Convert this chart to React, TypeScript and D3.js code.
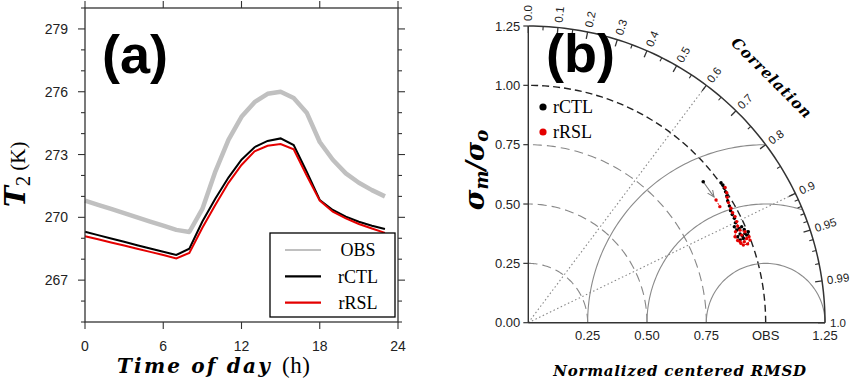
import React from 'react';
import * as d3 from 'd3';

// ---- panel (a): diurnal cycle of 2 m temperature ----
const hours = [0, 1, 2, 3, 4, 5, 6, 7, 8, 9, 10, 11, 12, 13, 14, 15, 16, 17, 18, 19, 20, 21, 22, 23];
const obsT2 = [270.8, 270.6, 270.4, 270.2, 270.0, 269.8, 269.6, 269.4, 269.3, 270.4, 272.2, 273.7, 274.8, 275.5, 275.9, 276.0, 275.7, 275.0, 273.6, 272.75, 272.1, 271.65, 271.3, 271.0];
const rctlT2 = [269.31, 269.15, 268.99, 268.83, 268.67, 268.51, 268.36, 268.2, 268.5, 269.8, 270.9, 271.9, 272.75, 273.35, 273.65, 273.77, 273.45, 272.18, 270.83, 270.35, 270.03, 269.79, 269.6, 269.44];
const rrslT2 = [269.1, 268.95, 268.8, 268.65, 268.5, 268.35, 268.2, 268.04, 268.3, 269.5, 270.6, 271.65, 272.5, 273.15, 273.42, 273.5, 273.25, 272.0, 270.8, 270.27, 269.95, 269.68, 269.47, 269.26];
const hourTicks = [0, 6, 12, 18, 24];
const tempTicks = [267, 270, 273, 276, 279];
const seriesNames = ['OBS', 'rCTL', 'rRSL'];

// ---- panel (b): Taylor diagram (normalized x / y components) ----
const ctlX = [0.812, 0.82, 0.826, 0.831, 0.836, 0.84, 0.847, 0.852, 0.859, 0.868, 0.873, 0.868, 0.878, 0.888, 0.899, 0.91, 0.913, 0.902, 0.892, 0.882, 0.892, 0.906, 0.92, 0.927];
const ctlY = [0.59, 0.58, 0.566, 0.552, 0.534, 0.514, 0.492, 0.472, 0.456, 0.44, 0.421, 0.404, 0.39, 0.397, 0.404, 0.393, 0.376, 0.365, 0.374, 0.362, 0.348, 0.355, 0.369, 0.383];
const rslX = [0.829, 0.836, 0.838, 0.843, 0.854, 0.861, 0.871, 0.878, 0.882, 0.873, 0.871, 0.882, 0.896, 0.91, 0.92, 0.93, 0.934, 0.924, 0.906, 0.892, 0.899, 0.913, 0.892];
const rslY = [0.57, 0.548, 0.528, 0.506, 0.482, 0.463, 0.447, 0.426, 0.407, 0.383, 0.362, 0.346, 0.334, 0.341, 0.355, 0.362, 0.348, 0.332, 0.327, 0.341, 0.369, 0.383, 0.39];
const outlierCtl = [0.737, 0.594];
const outlierRsl = [[0.791, 0.517], [0.807, 0.489]];
const stdTicks = [0, 0.25, 0.5, 0.75, 1.0, 1.25];
const stdTickLabels = ['0.00', '0.25', '0.50', '0.75', '1.00', '1.25'];
const xTickLabels = ['0.25', '0.50', '0.75', 'OBS', '1.25'];
const corrMajor = [0, 0.1, 0.2, 0.3, 0.4, 0.5, 0.6, 0.7, 0.8, 0.9, 0.95, 0.99, 1.0];
const corrMajorLabels = ['0.0', '0.1', '0.2', '0.3', '0.4', '0.5', '0.6', '0.7', '0.8', '0.9', '0.95', '0.99', '1.0'];
const corrMinor = [0.05, 0.15, 0.25, 0.35, 0.45, 0.55, 0.65, 0.75, 0.85, 0.91, 0.92, 0.93, 0.94, 0.96, 0.97, 0.98];
const rmsRadii = [0.25, 0.5, 0.75];
const stdArcs = [0.25, 0.5, 0.75];
const corrLines = [0.6, 0.9];

const sans = 'Liberation Sans, Arial, sans-serif';
const serif = 'Liberation Serif, Times New Roman, serif';
const mathFont = 'DejaVu Serif, serif';
const axisColor = '#333';

function PanelA() {
  const x = d3.scaleLinear().domain([0, 24]).range([85, 398]);
  const y = d3.scaleLinear().domain([265, 280]).range([322, 8]);
  const line = d3.line<number>().x((_d, i) => x(hours[i])).y(d => y(d));
  const minor = d3.range(265, 281);
  const [x0, x1] = x.range();
  const [y0, y1] = y.range();

  return (
    <g>
      {/* curves */}
      <path d={line(obsT2) || ''} fill="none" stroke="#c0c0c0" strokeWidth={4.5} strokeLinejoin="round" />
      <path d={line(rctlT2) || ''} fill="none" stroke="#000" strokeWidth={2} />
      <path d={line(rrslT2) || ''} fill="none" stroke="#e40000" strokeWidth={2} />

      {/* frame */}
      <rect x={x0} y={y1} width={x1 - x0} height={y0 - y1} fill="none" stroke={axisColor} strokeWidth={1.3} />
      {minor.map(v => {
        const major = tempTicks.includes(v);
        const len = major ? 7 : 4;
        return (
          <g key={'yt' + v} stroke={axisColor} strokeWidth={1.1}>
            <line x1={x0} x2={x0 - len} y1={y(v)} y2={y(v)} />
            <line x1={x1} x2={x1 + len} y1={y(v)} y2={y(v)} />
          </g>
        );
      })}
      {hourTicks.map(h => (
        <g key={'xt' + h} stroke={axisColor} strokeWidth={1.1}>
          <line x1={x(h)} x2={x(h)} y1={y0} y2={y0 + 7} />
          <line x1={x(h)} x2={x(h)} y1={y1} y2={y1 - 7} />
        </g>
      ))}
      {tempTicks.map(v => (
        <text key={'yl' + v} x={x0 - 17} y={y(v)} dy="0.36em" textAnchor="end" fontFamily={sans} fontSize={14} fill="#222">
          {v}
        </text>
      ))}
      {hourTicks.map(h => (
        <text key={'xl' + h} x={x(h)} y={351} textAnchor="middle" fontFamily={sans} fontSize={14} fill="#222">
          {h}
        </text>
      ))}

      {/* panel tag */}
      <text x={102} y={73} fontFamily={sans} fontWeight="bold" fontSize={54} fill="#000">(a)</text>

      {/* legend */}
      <rect x={270} y={233} width={125} height={84} fill="#fff" stroke="#000" strokeWidth={1.3} />
      {seriesNames.map((name, i) => {
        const cy = 250 + i * 26.3;
        const col = ['#c0c0c0', '#000', '#e40000'][i];
        return (
          <g key={name}>
            <line x1={285} x2={321} y1={cy} y2={cy} stroke={col} strokeWidth={2.2} />
            <text x={358} y={cy} dy="0.35em" textAnchor="middle" fontFamily={serif} fontSize={18} fill="#000">
              {name}
            </text>
          </g>
        );
      })}

      {/* axis titles */}
      <text x={117} y={373} fontFamily={mathFont} fontStyle="italic" fontWeight="bold" fontSize={20} letterSpacing={2.2} fill="#000">
        Time of day
        <tspan fontFamily={serif} fontStyle="normal" fontWeight="normal" fontSize={23} letterSpacing={0.5} dx={10}>(h)</tspan>
      </text>
      <text transform="translate(25,207) rotate(-90)" fontFamily={serif} fill="#000">
        <tspan fontFamily={mathFont} fontStyle="italic" fontWeight="bold" fontSize={28}>T</tspan>
        <tspan fontSize={21} dy={5}>2</tspan>
        <tspan fontSize={21} dy={-5} dx={5}>(K)</tspan>
      </text>
    </g>
  );
}

function PanelB() {
  const xs = d3.scaleLinear().domain([0, 1.25]).range([528.3, 825]);
  const ys = d3.scaleLinear().domain([0, 1.25]).range([322.7, 26]);
  const R = 1.25;
  const pix = xs(1) - xs(0);
  const polar = (s: number, c: number): [number, number] => {
    const t = Math.acos(c);
    return [xs(s * Math.cos(t)), ys(s * Math.sin(t))];
  };
  const arcLine = d3.line<[number, number]>().x(d => xs(d[0])).y(d => ys(d[1]));

  // std arcs around origin
  const originArc = (r: number) =>
    arcLine(d3.range(0, 91, 1).map(a => [r * Math.cos((a * Math.PI) / 180), r * Math.sin((a * Math.PI) / 180)] as [number, number])) || '';
  // RMSD arcs around OBS point, clipped to outer circle
  const rmsArc = (r: number) => {
    const xi = (R * R - r * r + 1) / 2;
    const phiEnd = xi >= R ? 0 : Math.atan2(Math.sqrt(R * R - xi * xi), xi - 1);
    const n = 90;
    const pts = d3.range(n + 1).map(i => {
      const phi = Math.PI - ((Math.PI - phiEnd) * i) / n;
      return [1 + r * Math.cos(phi), r * Math.sin(phi)] as [number, number];
    });
    return arcLine(pts) || '';
  };
  const seriesLine = (X: number[], Y: number[]) =>
    d3.line<number>().x((_d, i) => xs(X[i])).y((_d, i) => ys(Y[i]))(X) || '';

  return (
    <g>
      <defs>
        <marker id="arrowhead" viewBox="0 0 10 10" refX="9" refY="5" markerWidth="7" markerHeight="7" orient="auto">
          <path d="M0,1 L9,5 L0,9" fill="none" stroke="#777" strokeWidth={1.3} />
        </marker>
      </defs>

      {/* std dashed arcs */}
      {stdArcs.map(r => (
        <path key={'sa' + r} d={originArc(r)} fill="none" stroke="#888" strokeWidth={1.1} strokeDasharray="9,5" />
      ))}
      <path d={originArc(1)} fill="none" stroke="#222" strokeWidth={1.4} strokeDasharray="7,4" />

      {/* RMSD arcs */}
      {rmsRadii.map(r => (
        <path key={'rm' + r} d={rmsArc(r)} fill="none" stroke="#8a8a8a" strokeWidth={1.1} />
      ))}

      {/* correlation dotted rays */}
      {corrLines.map(c => {
        const [px, py] = polar(R, c);
        return <line key={'cl' + c} x1={xs(0)} y1={ys(0)} x2={px} y2={py} stroke="#888" strokeWidth={1.1} strokeDasharray="1.5,2.5" />;
      })}

      {/* outer arc & axes */}
      <path d={originArc(R)} fill="none" stroke={axisColor} strokeWidth={1.5} />
      <line x1={xs(0)} x2={xs(0)} y1={ys(0)} y2={ys(R)} stroke={axisColor} strokeWidth={1.4} />
      <line x1={xs(0)} x2={xs(R)} y1={ys(0)} y2={ys(0)} stroke={axisColor} strokeWidth={1.4} />

      {/* correlation ticks */}
      {corrMajor.map(c => {
        const [ax, ay] = polar(R, c);
        const [bx, by] = polar(R - 7 / pix, c);
        return <line key={'cM' + c} x1={ax} y1={ay} x2={bx} y2={by} stroke={axisColor} strokeWidth={1.3} />;
      })}
      {corrMinor.map(c => {
        const [ax, ay] = polar(R, c);
        const [bx, by] = polar(R - 4 / pix, c);
        return <line key={'cm' + c} x1={ax} y1={ay} x2={bx} y2={by} stroke={axisColor} strokeWidth={1.1} />;
      })}
      {corrMajor.map((c, i) => {
        const [lx, ly] = polar(R + 5 / pix, c);
        const deg = (Math.acos(c) * 180) / Math.PI;
        return (
          <text key={'cL' + c} transform={`translate(${lx},${ly}) rotate(${-deg})`} dy="0.35em" fontFamily={sans} fontSize={11.5} fill="#222">
            {corrMajorLabels[i]}
          </text>
        );
      })}

      {/* std axis ticks/labels */}
      {stdTicks.map((s, i) => (
        <g key={'st' + s}>
          <line x1={xs(0) - 5} x2={xs(0)} y1={ys(s)} y2={ys(s)} stroke={axisColor} strokeWidth={1.2} />
          <text x={xs(0) - 8} y={ys(s)} dy="0.36em" textAnchor="end" fontFamily={sans} fontSize={13} fill="#222">
            {stdTickLabels[i]}
          </text>
        </g>
      ))}
      {stdTicks.slice(1).map((s, i) => (
        <text key={'sx' + s} x={xs(s)} y={340} textAnchor="middle" fontFamily={sans} fontSize={13} fill="#222">
          {xTickLabels[i]}
        </text>
      ))}

      {/* model points */}
      <path d={seriesLine(ctlX, ctlY)} fill="none" stroke="#000" strokeWidth={0.9} strokeDasharray="2,1.5" />
      <path d={seriesLine(rslX, rslY)} fill="none" stroke="#e40000" strokeWidth={0.9} strokeDasharray="2,1.5" />
      {ctlX.map((v, i) => (
        <circle key={'cp' + i} cx={xs(v)} cy={ys(ctlY[i])} r={1.7} fill="#000" />
      ))}
      {rslX.map((v, i) => (
        <circle key={'rp' + i} cx={xs(v)} cy={ys(rslY[i])} r={1.7} fill="#e40000" />
      ))}
      <line
        x1={xs(outlierCtl[0])}
        y1={ys(outlierCtl[1])}
        x2={xs(outlierRsl[0][0]) - 2}
        y2={ys(outlierRsl[0][1]) - 3}
        stroke="#777"
        strokeWidth={1.1}
        markerEnd="url(#arrowhead)"
      />
      <circle cx={xs(outlierCtl[0])} cy={ys(outlierCtl[1])} r={1.8} fill="#000" />
      <path d={seriesLine(outlierRsl.map(p => p[0]), outlierRsl.map(p => p[1]))} stroke="#e40000" strokeWidth={0.9} strokeDasharray="2,1.5" />
      {outlierRsl.map((p, i) => (
        <circle key={'or' + i} cx={xs(p[0])} cy={ys(p[1])} r={1.7} fill="#e40000" />
      ))}

      {/* panel tag */}
      <text x={546} y={72} fontFamily={sans} fontWeight="bold" fontSize={54} fill="#000">(b)</text>

      {/* legend */}
      {['rCTL', 'rRSL'].map((name, i) => (
        <g key={name}>
          <circle cx={543} cy={107 + i * 25} r={3.6} fill={i === 0 ? '#000' : '#e40000'} />
          <text x={553} y={107 + i * 25} dy="0.35em" fontFamily={serif} fontSize={18} fill="#000">
            {name}
          </text>
        </g>
      ))}

      {/* titles */}
      <text x={680} y={376} textAnchor="middle" fontFamily={mathFont} fontStyle="italic" fontWeight="bold" fontSize={15} letterSpacing={0.8} fill="#000">
        Normalized centered RMSD
      </text>
      <text transform="translate(772,78) rotate(45)" textAnchor="middle" dy="0.35em" fontFamily={mathFont} fontStyle="italic" fontWeight="bold" fontSize={15} letterSpacing={1} fill="#000">
        Correlation
      </text>
      <text transform="translate(484,170) rotate(-90)" textAnchor="middle" fontFamily={mathFont} fontStyle="italic" fontWeight="bold" fill="#000">
        <tspan fontSize={28}>σ</tspan>
        <tspan fontSize={18} dy={4}>m</tspan>
        <tspan fontSize={26} dy={-4}>/σ</tspan>
        <tspan fontSize={18} dy={4}>o</tspan>
      </text>
    </g>
  );
}

export default function App() {
  return (
    <svg width={850} height={387} style={{ position: 'absolute', left: 0, top: 0, background: '#fff' }}>
      <rect width={850} height={387} fill="#fff" />
      <PanelA />
      <PanelB />
    </svg>
  );
}
